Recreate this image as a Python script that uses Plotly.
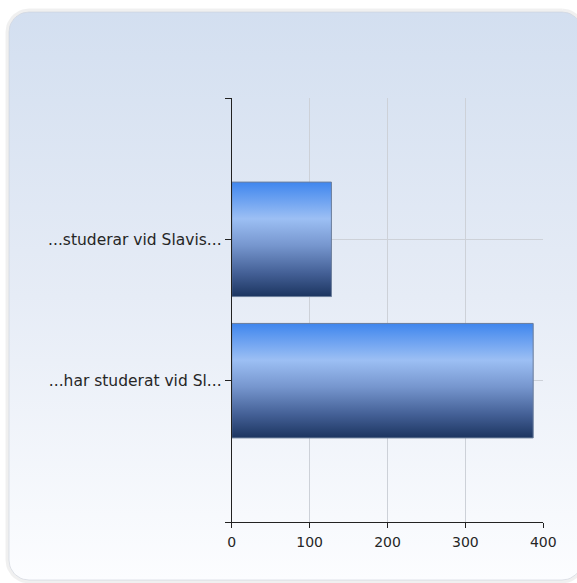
import numpy as np
import plotly.graph_objects as go

# ---- data ----
categories = ["...studerar vid Slavis...", "...har studerat vid Sl..."]
values = [128, 387]
x_ticks = [0, 100, 200, 300, 400]

W, H = 577, 583
BAR_W = 0.81

fig = go.Figure()

# ---- background panel (rounded, vertical gradient) on full-figure axes ----
def rounded_rect(x0, y0, x1, y1, r, n=12):
    pts = []
    corners = [(x1 - r, y0 + r, -90, 0), (x1 - r, y1 - r, 0, 90),
               (x0 + r, y1 - r, 90, 180), (x0 + r, y0 + r, 180, 270)]
    for cx, cy, a0, a1 in corners:
        for a in np.linspace(np.radians(a0), np.radians(a1), n):
            pts.append((cx + r * np.cos(a), cy + r * np.sin(a)))
    pts.append(pts[0])
    return [p[0] for p in pts], [p[1] for p in pts]

px, py = rounded_rect(9, 12, 582, 580, 20)
sx, sy = rounded_rect(7.5, 10.5, 583.5, 581.5, 21.5)
fig.add_trace(go.Scatter(x=sx, y=sy, mode="lines", line=dict(color="rgba(0,0,0,0.06)", width=4),
                         xaxis="x", yaxis="y", hoverinfo="skip", showlegend=False))
fig.add_trace(go.Scatter(x=px, y=py, mode="lines", fill="toself",
                         line=dict(color="rgba(205,210,220,0.6)", width=1),
                         fillgradient=dict(type="vertical", start=12, stop=580,
                                           colorscale=[[0, "#d3dff0"], [0.5, "#e6ecf6"], [1, "#fcfdff"]]),
                         xaxis="x", yaxis="y", hoverinfo="skip", showlegend=False))

# ---- bars ----
ypos = list(range(len(categories)))
fig.add_trace(go.Bar(x=values, y=ypos, orientation="h", width=BAR_W,
                     marker=dict(color="#6f93cc", line=dict(width=0)),
                     xaxis="x2", yaxis="y2", hoverinfo="skip", showlegend=False))
bar_scale = [[0, "#3f86ee"], [0.32, "#9cbff4"], [0.55, "#7797cf"],
             [0.8, "#435f95"], [1, "#1c3560"]]
for yc, v in zip(ypos, values):
    t, b = yc - BAR_W / 2, yc + BAR_W / 2
    fig.add_trace(go.Scatter(x=[0, v, v, 0, 0], y=[t, t, b, b, t], mode="lines", fill="toself",
                             line=dict(color="#6d7f9c", width=1),
                             fillgradient=dict(type="vertical", start=t, stop=b, colorscale=bar_scale),
                             xaxis="x2", yaxis="y2", hoverinfo="skip", showlegend=False))

yfont = dict(family="DejaVu Sans, Verdana, sans-serif", size=15.5, color="#262626")
xfont = dict(family="DejaVu Sans, Verdana, sans-serif", size=14, color="#262626")

x0p, x1p = 231.7, 543.3
y0p, y1p = 98, 522

fig.update_layout(
    template="none",
    width=W, height=H, autosize=False,
    margin=dict(l=0, r=0, t=0, b=0, pad=0),
    paper_bgcolor="white", plot_bgcolor="rgba(0,0,0,0)",
    showlegend=False,
    font=yfont,
    xaxis=dict(domain=[0, 1], range=[0, W], visible=False, fixedrange=True, automargin=False),
    yaxis=dict(domain=[0, 1], range=[H, 0], visible=False, fixedrange=True, automargin=False),
    xaxis2=dict(domain=[x0p / W, x1p / W], anchor="y2", range=[0, 400], automargin=False,
                tickvals=x_ticks, ticks="outside", ticklen=5, tickcolor="#222", tickwidth=1,
                ticklabelstandoff=2,
                showline=True, linecolor="#222", linewidth=1,
                showgrid=True, gridcolor="#cdd1d8", gridwidth=1, zeroline=False,
                tickfont=xfont, fixedrange=True),
    yaxis2=dict(domain=[(H - y1p) / H, (H - y0p) / H], anchor="x2", range=[2, -1], automargin=False,
                tickvals=[-1, 0, 1, 2], ticktext=[""] + categories + [""],
                ticks="outside", ticklen=6, tickcolor="#222", tickwidth=1,
                showline=True, linecolor="#222", linewidth=1,
                showgrid=True, gridcolor="#cdd1d8", gridwidth=1, zeroline=False,
                tickfont=yfont, fixedrange=True),
)

fig.write_html("out.html", config={"displayModeBar": False},
               post_script="document.body.style.margin='0';document.body.style.overflow='hidden';")
